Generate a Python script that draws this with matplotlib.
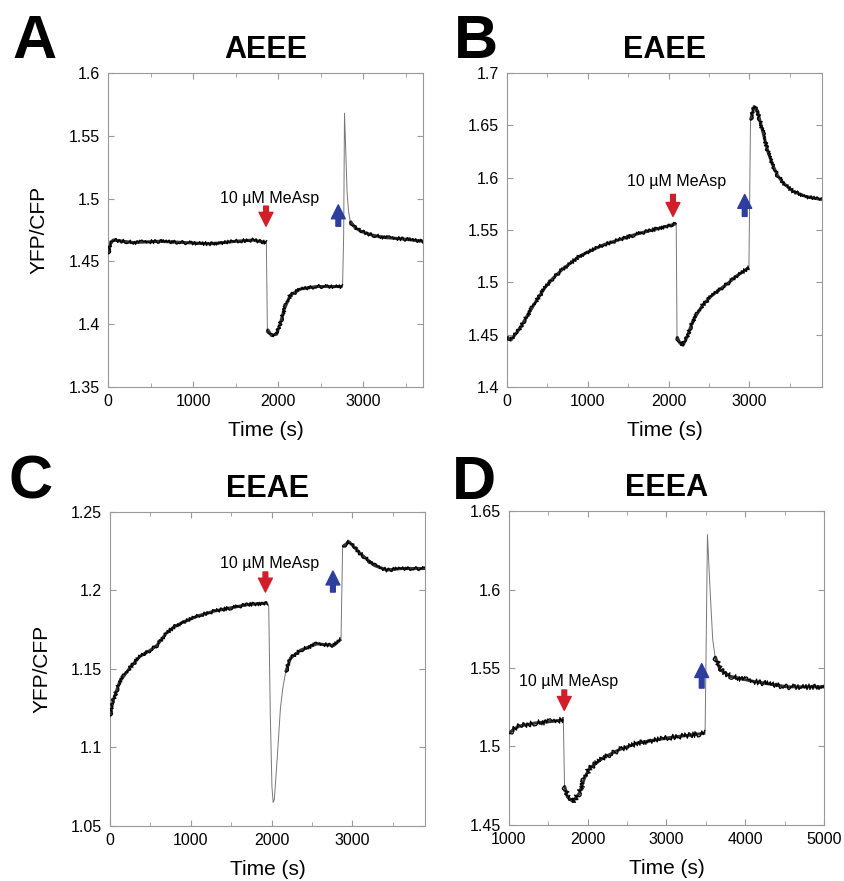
import numpy as np
import matplotlib
matplotlib.use("Agg")
import matplotlib.pyplot as plt
from matplotlib.ticker import MultipleLocator

plt.rcParams['font.family'] = ['Liberation Sans', 'DejaVu Sans']

# ---------- data ----------
# A: AEEE
a_t = [0, 30, 60, 300, 600, 900, 1200, 1500, 1700, 1860,
       1872, 1920, 1980, 2030, 2070, 2140, 2260, 2450, 2600, 2755,
       2768, 2778, 2792, 2808, 2825, 2845,
       2900, 2970, 3100, 3250, 3450, 3700]
a_y = [1.456, 1.464, 1.467, 1.465, 1.466, 1.465, 1.464, 1.466, 1.467, 1.465,
       1.396, 1.391, 1.392, 1.402, 1.412, 1.423, 1.428, 1.430, 1.430, 1.430,
       1.470, 1.568, 1.540, 1.505, 1.490, 1.482,
       1.477, 1.474, 1.471, 1.469, 1.468, 1.466]
a_thick = [(0, 1860), (1872, 2755), (2845, 3700)]

# B: EAEE
b_t = [0, 50, 150, 250, 360, 470, 570, 680, 780, 900, 1000, 1200, 1400, 1600,
       1800, 2000, 2095,
       2105, 2140, 2180, 2230, 2300, 2420, 2530, 2630, 2750, 2840, 2995,
       3015, 3060, 3100, 3170, 3230, 3290, 3350, 3420, 3540, 3700, 3900]
b_y = [1.448, 1.445, 1.455, 1.468, 1.482, 1.495, 1.504, 1.512, 1.518, 1.525,
       1.529, 1.536, 1.541, 1.546, 1.550, 1.554, 1.556,
       1.448, 1.442, 1.440, 1.448, 1.463, 1.478, 1.487, 1.493, 1.500, 1.506, 1.514,
       1.655, 1.668, 1.664, 1.643, 1.625, 1.612, 1.602, 1.595, 1.587, 1.582, 1.579]
b_thick = [(0, 2095), (2105, 2995), (3015, 3900)]

# C: EEAE
c_t = [0, 40, 120, 250, 370, 500, 580, 700, 800, 910, 1100, 1300, 1500, 1700,
       1950, 1965, 1985, 2005, 2020, 2035, 2070, 2110, 2140, 2175, 2235, 2360,
       2560, 2770, 2860, 2880, 2960, 3100, 3270, 3430, 3600, 3900]
c_y = [1.120, 1.130, 1.142, 1.151, 1.158, 1.162, 1.165, 1.173, 1.177, 1.180,
       1.184, 1.187, 1.189, 1.191, 1.192, 1.190, 1.120, 1.075, 1.065, 1.067,
       1.093, 1.125, 1.138, 1.148, 1.157, 1.162, 1.166, 1.165, 1.169, 1.228,
       1.231, 1.2235, 1.216, 1.213, 1.214, 1.214]
c_thick = [(0, 1950), (2175, 2860), (2880, 3900)]

# D: EEEA
d_t = [1000, 1060, 1130, 1340, 1550, 1690,
       1705, 1740, 1810, 1890, 1960, 2020, 2190, 2400, 2620, 2830, 3085, 3340,
       3490, 3505, 3520, 3553, 3587, 3617, 3680, 3810, 4100, 4530, 5000]
d_y = [1.5085, 1.511, 1.513, 1.515, 1.516, 1.517,
       1.475, 1.468, 1.465, 1.470, 1.480, 1.486, 1.4926, 1.498, 1.502, 1.504,
       1.506, 1.5075, 1.5085, 1.570, 1.635, 1.600, 1.568, 1.5574, 1.549,
       1.5447, 1.5415, 1.538, 1.538]
d_thick = [(1000, 1690), (1705, 3490), (3617, 5000)]

titles = ["AEEE", "EAEE", "EEAE", "EEEA"]
letters = ["A", "B", "C", "D"]
xlims = [(0, 3700), (0, 3900), (0, 3900), (1000, 5000)]
ylims = [(1.35, 1.6), (1.4, 1.7), (1.05, 1.25), (1.45, 1.65)]
label_pos = [(1897, 1.500), (2100, 1.5965), (1973, 1.217), (1760, 1.5415)]
# red arrow: x, tail (top), tip (bottom)
red_arrow = [(1856, 1.494, 1.478), (2055, 1.584, 1.563),
             (1924, 1.2118, 1.199), (1702, 1.536, 1.523)]
# blue arrow: x, tail (bottom), tip (top)
blue_arrow = [(2705, 1.478, 1.495), (2943, 1.563, 1.584),
              (2760, 1.199, 1.2124), (3447, 1.5372, 1.5528)]

traces = [(a_t, a_y, a_thick), (b_t, b_y, b_thick),
          (c_t, c_y, c_thick), (d_t, d_y, d_thick)]
noise_px = [2.0, 2.0, 2.0, 2.8]   # visual width of the noisy band

# ---------- layout ----------
W, H = 845, 881
fig = plt.figure(figsize=(W / 100, H / 100), dpi=100)
rects = [(108, 73), (507, 73), (110, 512), (509, 511)]
letter_pos = [(12, 58), (454, 58), (9, 499), (452, 499)]
arrow_style = 'simple,head_length=0.5,head_width=0.5,tail_width=0.17'

for i in range(4):
    x0, y0 = rects[i]
    ax = fig.add_axes([x0 / W, 1 - (y0 + 314) / H, 315 / W, 314 / H])
    t, y, thick = traces[i]
    t = np.array(t, float)
    y = np.array(y, float)
    ax.plot(t, y, color='#777777', lw=0.7, zorder=2)
    for lo, hi in thick:
        m = (t >= lo) & (t <= hi)
        ax.plot(t[m], y[m], color='#333333', lw=2.2, zorder=3,
                solid_capstyle='butt')
        # jagged overlay to suggest the measurement noise
        ln, = ax.plot(t[m], y[m], color='black', lw=0.9, zorder=4)
        ln.set_sketch_params(scale=noise_px[i], length=1.6, randomness=6)

    ax.set_xlim(*xlims[i])
    ax.set_ylim(*ylims[i])
    ax.xaxis.set_major_locator(MultipleLocator(1000))
    ax.xaxis.set_minor_locator(MultipleLocator(500))
    ax.yaxis.set_major_locator(MultipleLocator(0.05))
    ax.tick_params(which='both', direction='in', top=True, right=True,
                   color='#999999', labelsize=11.5)
    ax.tick_params(which='major', length=4)
    ax.tick_params(which='minor', length=3)
    ax.tick_params(axis='y', pad=6)
    ax.tick_params(axis='x', pad=5)
    ax.yaxis.set_major_formatter(plt.FuncFormatter(lambda v, p: f"{v:g}"))
    for s in ax.spines.values():
        s.set_color('#999999')
        s.set_linewidth(0.8)

    ax.set_xlabel("Time (s)", fontsize=15, labelpad=9)
    if i in (0, 2):
        ax.set_ylabel("YFP/CFP", fontsize=15, labelpad=14)
    ax.set_title(titles[i], fontsize=22, fontweight='bold', pad=10.5)

    tx, ty = label_pos[i]
    ax.text(tx, ty, "10 \u00b5M MeAsp", fontsize=11.5, ha='center', va='center')
    rx, r0, r1 = red_arrow[i]
    ax.annotate('', xy=(rx, r1), xytext=(rx, r0),
                arrowprops=dict(arrowstyle=arrow_style, color='#d11f2a',
                                shrinkA=0, shrinkB=0, mutation_scale=20))
    bx, b0, b1 = blue_arrow[i]
    ax.annotate('', xy=(bx, b1), xytext=(bx, b0),
                arrowprops=dict(arrowstyle=arrow_style, color='#2d3e9c',
                                shrinkA=0, shrinkB=0, mutation_scale=20))

    lx, ly = letter_pos[i]
    fig.text(lx / W, 1 - ly / H, letters[i], fontsize=44, fontweight='bold',
             va='baseline', ha='left')

fig.savefig("out.png", dpi=100)
